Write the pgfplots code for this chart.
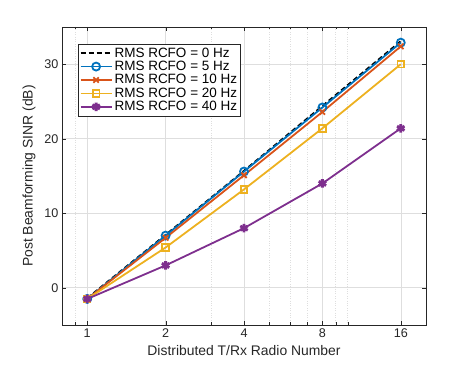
\documentclass[border=0pt]{standalone}
\usepackage{fontspec}
\setmainfont{Liberation Sans}
\usepackage{pgfplots}
\pgfplotsset{compat=1.18}

\definecolor{mblue}{rgb}{0,0.447,0.741}
\definecolor{morange}{rgb}{0.85,0.325,0.098}
\definecolor{myellow}{rgb}{0.929,0.694,0.125}
\definecolor{mpurple}{rgb}{0.494,0.184,0.556}
\definecolor{axgray}{gray}{0.15}
\definecolor{gridgray}{gray}{0.87}

\begin{document}
\begin{tikzpicture}
\useasboundingbox (-62pt,-44pt) rectangle (409pt,325pt);
\begin{axis}[
    at={(0,0)}, anchor=south west,
    width=364pt, height=298pt, scale only axis,
    xmode=log, log basis x=10,
    xmin=0.8, xmax=20,
    ymin=-5, ymax=35,
    xtick={1,2,4,8,16},
    xticklabels={1,2,4,8,16},
    minor xtick={0.9,3,5,6,7,9,10,20},
    ytick={0,10,20,30},
    /pgf/number format/assume math mode=true,
    tick label style={font=\fontsize{12.6}{15}\selectfont, text=axgray},
    label style={font=\fontsize{13.9}{16}\selectfont, text=axgray},
    xlabel={Distributed T/Rx Radio Number},
    ylabel={Post Beamforming SINR (dB)},
    xlabel style={yshift=-1pt},
    ylabel style={yshift=2pt},
    axis line style={axgray},
    major tick style={axgray},
    minor tick style={axgray},
    tick align=inside,
    major tick length=4pt, minor tick length=2.5pt,
    grid=both,
    major grid style={gridgray, line width=0.5pt},
    minor grid style={gridgray, dotted, line width=0.6pt},
    legend style={at={(0.044,0.943)}, anchor=north west,
        font=\fontsize{13.5}{15}\selectfont, draw=axgray, fill=white,
        inner sep=1.5pt, row sep=-1.5pt},
    legend cell align=left,
    legend image code/.code={
        \draw[line width=1.8pt, mark repeat=2,mark phase=2] plot coordinates {(0pt,0pt) (15.5pt,0pt) (31pt,0pt)};},
    every axis plot/.append style={line width=1.8pt},
]
\addplot[black, dash pattern=on 5pt off 3pt] coordinates {
    (1,-1.4) (2,7.1) (4,15.7) (8,24.4) (16,33.1)};
\addlegendentry{RMS RCFO = 0 Hz}
\addplot[mblue, mark=o, mark size=4pt, mark options={solid, line width=1.8pt}] coordinates {
    (1,-1.5) (2,7.0) (4,15.6) (8,24.2) (16,32.9)};
\addlegendentry{RMS RCFO = 5 Hz}
\addplot[morange, mark=x, mark size=3.8pt, mark options={solid, line width=1.8pt}] coordinates {
    (1,-1.5) (2,6.7) (4,15.1) (8,23.6) (16,32.4)};
\addlegendentry{RMS RCFO = 10 Hz}
\addplot[myellow, mark=square, mark size=3.3pt, mark options={solid, line width=1.8pt}] coordinates {
    (1,-1.5) (2,5.4) (4,13.2) (8,21.4) (16,30.0)};
\addlegendentry{RMS RCFO = 20 Hz}
\addplot[mpurple, mark=asterisk, mark size=4.3pt, mark options={solid, line width=2.8pt}] coordinates {
    (1,-1.5) (2,3.0) (4,8.0) (8,14.0) (16,21.4)};
\addlegendentry{RMS RCFO = 40 Hz}
\end{axis}
\end{tikzpicture}
\end{document}
